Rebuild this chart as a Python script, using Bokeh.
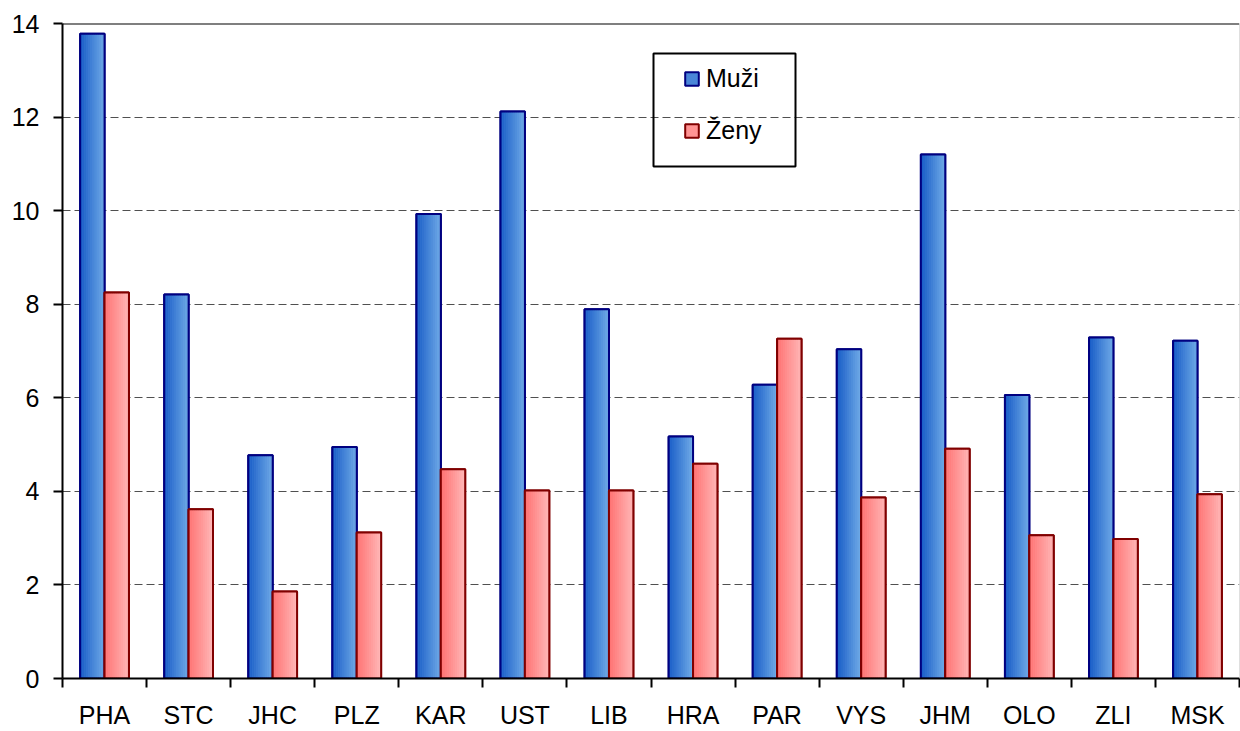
import numpy as np
from bokeh.plotting import figure
from bokeh.models import (Range1d, FixedTicker, Span, Legend, LegendItem,
                          BoxAnnotation, ColumnDataSource)
from bokeh.embed import file_html
from bokeh.resources import INLINE

# ---- data ----
regions = ["PHA", "STC", "JHC", "PLZ", "KAR", "UST", "LIB",
           "HRA", "PAR", "VYS", "JHM", "OLO", "ZLI", "MSK"]
muzi = [13.78, 8.21, 4.77, 4.95, 9.93, 12.12, 7.89,
        5.17, 6.28, 7.04, 11.20, 6.06, 7.29, 7.22]
zeny = [8.25, 3.62, 1.86, 3.12, 4.47, 4.02, 4.02,
        4.59, 7.26, 3.87, 4.91, 3.06, 2.98, 3.94]
series_names = ["Muži", "Ženy"]
y_ticks = [0, 2, 4, 6, 8, 10, 12, 14]

FONT = "Liberation Sans"
FS = "25px"

n = len(regions)
centers = np.arange(n) + 0.5
bounds = list(np.arange(n + 1).astype(float))

p = figure(width=1240, height=731, output_backend="svg", toolbar_location=None,
           x_range=Range1d(0, n), y_range=Range1d(0, 14),
           min_border_left=62, min_border_right=1, min_border_top=23,
           min_border_bottom=51)
p.outline_line_color = None
p.background_fill_color = "white"
p.border_fill_color = "white"

w = 0.29
N = 12


def lerp(c1, c2, t):
    a = [int(c1[i:i + 2], 16) for i in (1, 3, 5)]
    b = [int(c2[i:i + 2], 16) for i in (1, 3, 5)]
    return "#%02x%02x%02x" % tuple(int(round(a[j] + (b[j] - a[j]) * t)) for j in range(3))


series = [
    (series_names[0], muzi, -w / 2, "#1a5ec8", "#6ea9e6", "#4a86d8", "#000080"),
    (series_names[1], zeny, +w / 2, "#ff7474", "#ffb6b6", "#ff9494", "#800000"),
]

legend_items = []
for name, vals, off, cl, cr, cm, lc in series:
    src = ColumnDataSource(dict(x=centers + off, top=vals))
    base = p.vbar(x="x", top="top", width=w, bottom=0, source=src,
                  fill_color=cm, line_color=lc, line_width=2)
    for k in range(N):
        s = ColumnDataSource(dict(x=centers + off - w / 2 + (k + 0.5) * w / N, top=vals))
        p.vbar(x="x", top="top", width=w / N * 1.08, bottom=0, source=s,
               fill_color=lerp(cl, cr, k / (N - 1)), line_color=None)
    p.vbar(x="x", top="top", width=w, bottom=0, source=src,
           fill_color=None, line_color=lc, line_width=2)
    legend_items.append(LegendItem(label=name, renderers=[base]))

# grid
p.xgrid.visible = False
p.ygrid.ticker = FixedTicker(ticks=y_ticks)
p.ygrid.grid_line_color = "#505050"
p.ygrid.grid_line_dash = "8 4"
p.ygrid.grid_line_width = 1

# x axis
xa = p.xaxis[0]
xa.ticker = FixedTicker(ticks=list(centers), minor_ticks=bounds)
xa.major_label_overrides = {float(c): r for c, r in zip(centers, regions)}
xa.major_tick_line_color = None
xa.minor_tick_line_color = "black"
xa.minor_tick_line_width = 2
xa.minor_tick_in = 0
xa.minor_tick_out = 9
xa.axis_line_color = "black"
xa.axis_line_width = 2
xa.major_label_text_font = FONT
xa.major_label_text_font_size = FS
xa.major_label_text_color = "black"
xa.major_label_standoff = 13

# y axis
ya = p.yaxis[0]
ya.ticker = FixedTicker(ticks=y_ticks)
ya.minor_tick_line_color = None
ya.major_tick_line_color = "black"
ya.major_tick_line_width = 2
ya.major_tick_in = 0
ya.major_tick_out = 9
ya.axis_line_color = "black"
ya.axis_line_width = 2
ya.major_label_text_font = FONT
ya.major_label_text_font_size = FS
ya.major_label_text_color = "black"
ya.major_label_standoff = 14

# frame top and right edges
p.add_layout(Span(location=14, dimension="width", line_color="black", line_width=2))
p.add_layout(Span(location=n, dimension="height", line_color="#c0c0c0", line_width=1))

# legend frame
p.add_layout(BoxAnnotation(left=653, right=795, top=53, bottom=166,
                           left_units="canvas", right_units="canvas",
                           top_units="canvas", bottom_units="canvas",
                           fill_color=None, line_color="black", line_width=2,
                           line_alpha=1))

legend = Legend(items=legend_items, location=(621, 533),
                border_line_color=None, background_fill_alpha=0,
                padding=0, margin=0, spacing=22,
                glyph_width=17, glyph_height=17, label_standoff=6,
                label_height=30, label_text_font=FONT, label_text_font_size=FS,
                label_text_color="black")
p.add_layout(legend)

open("out.html", "w").write(file_html(p, INLINE))
